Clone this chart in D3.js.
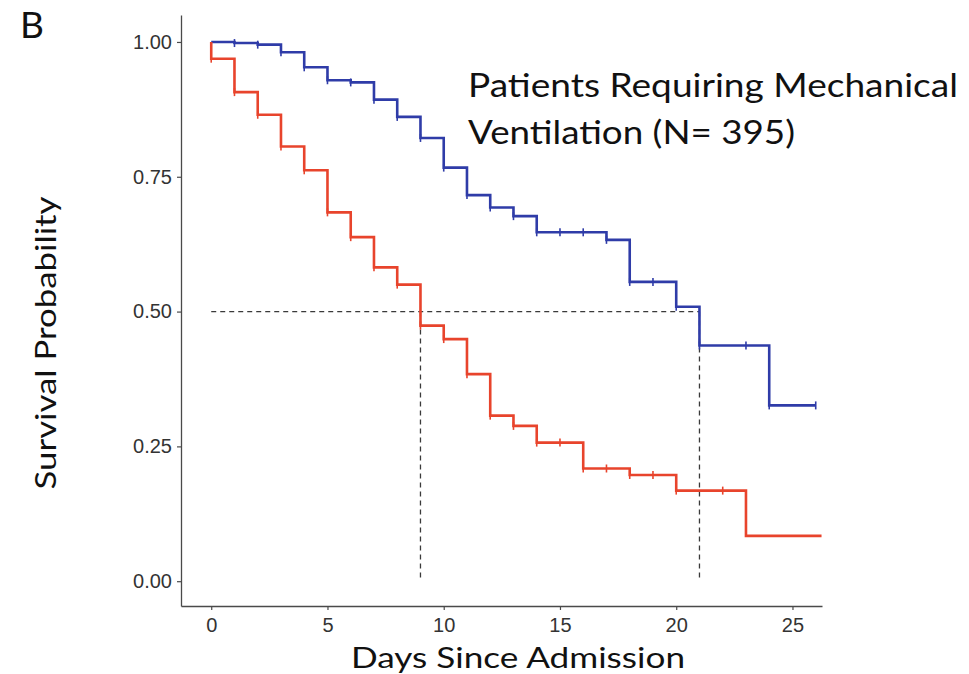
<!DOCTYPE html>
<html>
<head>
<meta charset="utf-8">
<script src="https://cdn.jsdelivr.net/npm/d3@7"></script>
<style>
body { margin: 0; background: #fff; }
</style>
</head>
<body>
<script>
// datos
var blueTimes = [0, 1, 2, 3, 4, 5, 6, 7, 8, 9, 10, 11, 12, 13, 14, 17, 18, 20, 21, 24];
var blueSurv = [1.000, 0.998, 0.995, 0.981, 0.953, 0.929, 0.925, 0.893, 0.861, 0.822, 0.767, 0.716, 0.693, 0.677, 0.647, 0.633, 0.555, 0.509, 0.437, 0.326];
var blueEnd = 26;
var blueCensor = [1, 2, 3, 4, 5, 6, 7, 8, 9, 10, 11, 12, 13, 14, 15, 16, 17, 18, 19, 20, 21, 23, 24, 26];

var redTimes = [0, 0, 1, 2, 3, 4, 5, 6, 7, 8, 9, 10, 11, 12, 13, 14, 16, 18, 20, 23];
var redSurv = [1.000, 0.969, 0.907, 0.865, 0.806, 0.762, 0.684, 0.638, 0.582, 0.550, 0.474, 0.449, 0.384, 0.307, 0.288, 0.257, 0.209, 0.197, 0.168, 0.084];
var redEnd = 26.25;
var redCensor = [0, 1, 2, 3, 4, 5, 6, 7, 8, 9, 10, 11, 12, 13, 14, 15, 16, 17, 18, 19, 20, 22];

var medians = [9, 21];
var xTicks = [0, 5, 10, 15, 20, 25];
var yTicks = [0, 0.25, 0.5, 0.75, 1];

var margin = {top: 15, right: 147, bottom: 68, left: 181};
var width = 969 - margin.left - margin.right;
var height = 674 - margin.top - margin.bottom;

var svg = d3.select("body").append("svg")
    .attr("width", 969)
    .attr("height", 674);

var g = svg.append("g")
    .attr("transform", "translate(" + margin.left + "," + margin.top + ")");

var xScale = d3.scaleLinear().domain([-1.3, 26.27]).range([0, width]);
var yScale = d3.scaleLinear().domain([-0.046, 1.05]).range([height, 0]);

// ejes
var xAxis = d3.axisBottom(xScale).tickValues(xTicks).tickSize(4).tickSizeOuter(0).tickPadding(8);
var yAxis = d3.axisLeft(yScale).tickValues(yTicks).tickFormat(d3.format(".2f")).tickSize(4).tickSizeOuter(0).tickPadding(5);

var gx = g.append("g").attr("transform", "translate(0," + height + ")").call(xAxis);
var gy = g.append("g").call(yAxis);

[gx, gy].forEach(a => {
    a.attr("font-size", null).attr("font-family", null);
    a.select(".domain").attr("stroke", "#4a4a4a").attr("stroke-width", 1.3);
    a.selectAll(".tick line").attr("stroke", "#4a4a4a").attr("stroke-width", 1.2);
    a.selectAll(".tick text")
        .attr("fill", "#333")
        .style("font-family", "'Liberation Sans', Arial, sans-serif")
        .style("font-size", "20px");
});

// lineas de mediana
var dash = g.append("g")
    .attr("stroke", "#3a3a3a")
    .attr("stroke-width", 1.3)
    .attr("stroke-dasharray", "5,4")
    .attr("fill", "none");

dash.append("line")
    .attr("x1", xScale(0)).attr("x2", xScale(d3.max(medians)))
    .attr("y1", yScale(0.5)).attr("y2", yScale(0.5));

medians.forEach(m => {
    dash.append("line")
        .attr("x1", xScale(m)).attr("x2", xScale(m))
        .attr("y1", yScale(0.5)).attr("y2", yScale(0));
});

// curvas
function stepAt(times, surv, t) {
    var s = surv[0];
    for (var i = 0; i < times.length; i++) {
        if (times[i] <= t) s = surv[i];
    }
    return s;
}

function drawCurve(times, surv, end, censor, color) {
    var pts = times.map((t, i) => [t, surv[i]]);
    pts.push([end, surv[surv.length - 1]]);
    var line = d3.line()
        .x(d => xScale(d[0]))
        .y(d => yScale(d[1]))
        .curve(d3.curveStepAfter);
    g.append("path")
        .datum(pts)
        .attr("d", line)
        .attr("fill", "none")
        .attr("stroke", color)
        .attr("stroke-width", 2.6);
    g.selectAll(null)
        .data(censor)
        .enter().append("line")
        .attr("x1", d => xScale(d)).attr("x2", d => xScale(d))
        .attr("y1", d => yScale(stepAt(times, surv, d)) - 4)
        .attr("y2", d => yScale(stepAt(times, surv, d)) + 4)
        .attr("stroke", color)
        .attr("stroke-width", 1.6);
}

drawCurve(blueTimes, blueSurv, blueEnd, blueCensor, "#2f3ca8");
drawCurve(redTimes, redSurv, redEnd, redCensor, "#e8442c");

// textos
var font = "Lato, 'Open Sans', sans-serif";

svg.append("text")
    .attr("x", 20).attr("y", 38)
    .style("font-family", font).style("font-size", "37px")
    .attr("fill", "#111")
    .text("B");

svg.append("text")
    .attr("x", 468).attr("y", 97)
    .attr("textLength", 490).attr("lengthAdjust", "spacingAndGlyphs")
    .style("font-family", font).style("font-size", "33.5px")
    .attr("fill", "#111")
    .text("Patients Requiring Mechanical");

svg.append("text")
    .attr("x", 468).attr("y", 144)
    .attr("textLength", 327).attr("lengthAdjust", "spacingAndGlyphs")
    .style("font-family", font).style("font-size", "33.5px")
    .attr("fill", "#111")
    .text("Ventilation (N= 395)");

svg.append("text")
    .attr("x", 518).attr("y", 668)
    .attr("text-anchor", "middle")
    .attr("textLength", 334).attr("lengthAdjust", "spacingAndGlyphs")
    .style("font-family", font).style("font-size", "29px")
    .attr("fill", "#111")
    .text("Days Since Admission");

svg.append("text")
    .attr("transform", "translate(56,343) rotate(-90)")
    .attr("text-anchor", "middle")
    .attr("textLength", 293).attr("lengthAdjust", "spacingAndGlyphs")
    .style("font-family", font).style("font-size", "29px")
    .attr("fill", "#111")
    .text("Survival Probability");
</script>
</body>
</html>
